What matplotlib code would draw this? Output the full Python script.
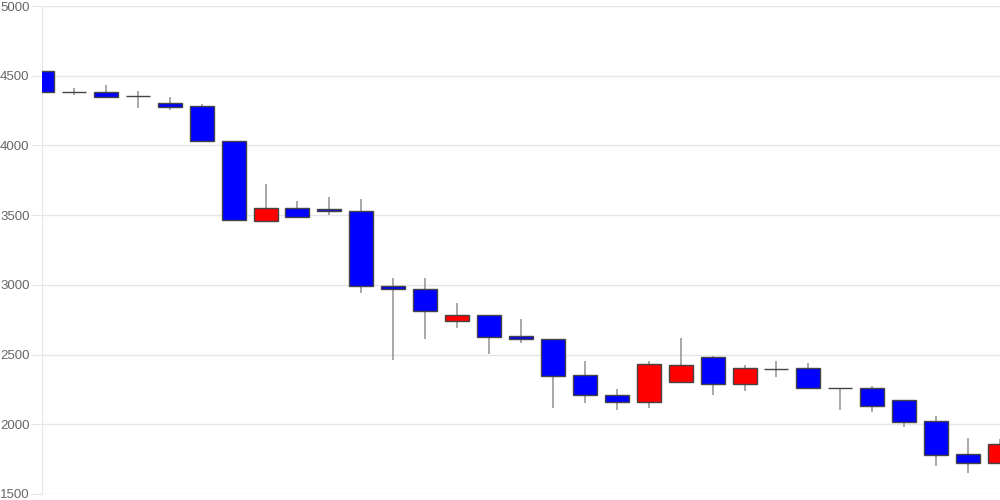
import numpy as np
import matplotlib.pyplot as plt

plt.rcParams['font.family'] = ['Liberation Sans', 'DejaVu Sans']

# daily prices
opens = [4534, 4381, 4383, 4352, 4302, 4280, 4030, 3460, 3551, 3542,
         3532, 2992, 2972, 2740, 2784, 2630, 2609, 2351, 2212, 2159,
         2301, 2480, 2291, 2399, 2401, 2262, 2262, 2172, 2023, 1784, 1720]
highs = [4553, 4414, 4431, 4390, 4350, 4299, 4030, 3723, 3601, 3630,
         3613, 3051, 3051, 2870, 2784, 2752, 2609, 2453, 2253, 2453,
         2621, 2492, 2425, 2453, 2439, 2262, 2274, 2172, 2061, 1903, 1894]
lows = [4362, 4362, 4350, 4271, 4251, 4030, 3463, 3460, 3489, 3501,
        2939, 2461, 2611, 2693, 2501, 2580, 2119, 2150, 2100, 2119,
        2301, 2212, 2238, 2341, 2251, 2102, 2090, 1982, 1700, 1652, 1720]
closes = [4381, 4380, 4350, 4351, 4278, 4030, 3463, 3549, 3489, 3530,
          2989, 2972, 2810, 2784, 2628, 2609, 2349, 2210, 2159, 2430,
          2423, 2291, 2401, 2393, 2258, 2262, 2129, 2018, 1779, 1720, 1860]

o = np.array(opens)
c = np.array(closes)
x = np.arange(len(opens))
up = c > o
colors = np.where(up, '#ff0000', '#0000ff')

fig = plt.figure(figsize=(10, 5), dpi=100)
ax = fig.add_axes([0.042, 0.012, 0.958, 0.976])

ax.vlines(x, lows, highs, color='#999999', linewidth=1.2, zorder=2)
body = np.maximum(np.abs(c - o), 1)
ax.bar(x, body, bottom=np.minimum(o, c), width=0.75, color=colors,
       edgecolor='#444444', linewidth=1, zorder=3)

ax.set_xlim(0, 30)
ax.set_ylim(1500, 5000)
ax.set_yticks(np.arange(1500, 5001, 500))
ax.set_xticks([])
ax.grid(axis='y', color='#e6e6e6', linewidth=1)
ax.set_axisbelow(True)
for s in ['top', 'right', 'bottom']:
    ax.spines[s].set_visible(False)
ax.spines['left'].set_color('#e6e6e6')
ax.tick_params(axis='y', length=8, pad=1, color='#e6e6e6', labelcolor='#666666', labelsize=9.5)

fig.savefig('out.png')
